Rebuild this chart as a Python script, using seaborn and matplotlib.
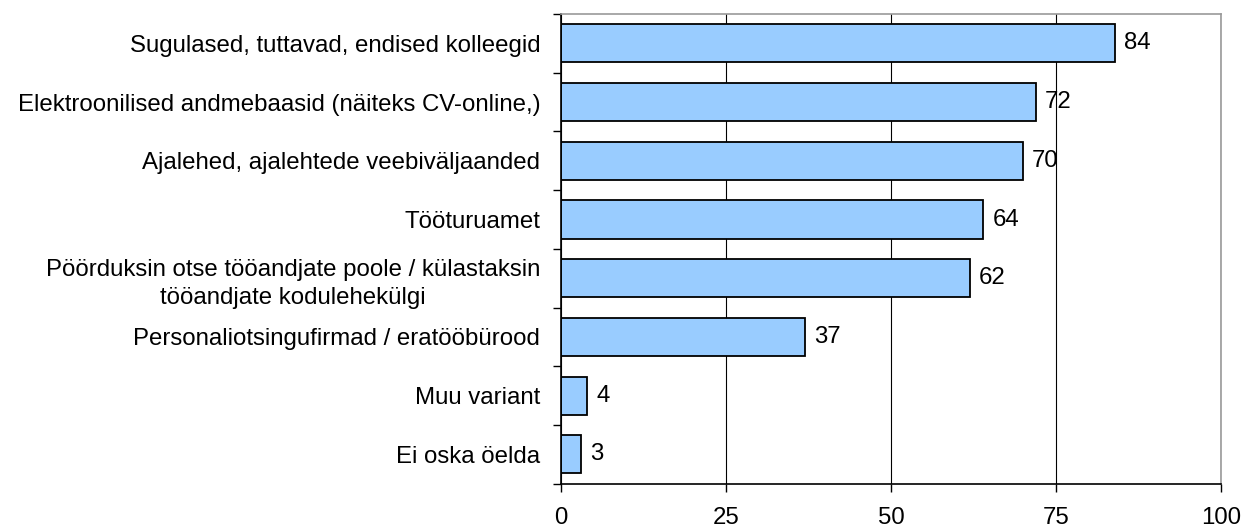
import numpy as np
import pandas as pd
import matplotlib
matplotlib.use("Agg")
import matplotlib.pyplot as plt
import seaborn as sns
from matplotlib.ticker import FixedLocator

categories = [
    "Sugulased, tuttavad, endised kolleegid",
    "Elektroonilised andmebaasid (näiteks CV-online,)",
    "Ajalehed, ajalehtede veebiväljaanded",
    "Tööturuamet",
    "Pöörduksin otse tööandjate poole / külastaksin\ntööandjate kodulehekülgi",
    "Personaliotsingufirmad / eratööbürood",
    "Muu variant",
    "Ei oska öelda",
]
values = [84, 72, 70, 64, 62, 37, 4, 3]
x_ticks = [0, 25, 50, 75, 100]

df = pd.DataFrame({"category": categories, "value": values})

sns.set_style("white")
plt.rcParams["font.family"] = ["Liberation Sans", "DejaVu Sans"]
plt.rcParams["text.color"] = "black"
plt.rcParams["xtick.color"] = "black"
plt.rcParams["ytick.color"] = "black"
fs = 17.3

fig = plt.figure(figsize=(12.55, 5.29), dpi=100)
ax = fig.add_axes([0.447, 0.0856, 0.5259, 0.8879])

sns.barplot(data=df, x="value", y="category", orient="h", color="#99CCFF",
            saturation=1, edgecolor="black", linewidth=1.3, width=0.65, ax=ax)

# value labels right of each bar
for i, v in enumerate(values):
    ax.annotate(str(v), xy=(v, i), xytext=(6.5, 0), textcoords="offset points",
                va="center", ha="left", fontsize=fs)

ax.set_xlim(0, 100)
ax.set_ylim(len(categories) - 0.5, -0.5)
ax.set_xticks(x_ticks)
ax.set_xticklabels([str(t) for t in x_ticks], fontsize=fs)
ax.xaxis.grid(True, color="black", linewidth=0.8)
ax.set_axisbelow(True)
ax.set_xlabel("")
ax.set_ylabel("")

ax.set_yticks(range(len(categories)))
ax.set_yticklabels(categories, fontsize=fs, multialignment="center", linespacing=1.35)
ax.tick_params(axis="y", which="major", length=0, pad=15)
ax.yaxis.set_minor_locator(FixedLocator(np.arange(-0.5, len(categories), 1.0)))
ax.tick_params(axis="y", which="minor", length=6, width=1, color="black", direction="out", left=True)
ax.tick_params(axis="x", which="major", length=6, width=1, color="black", direction="out", bottom=True, pad=11)

for side in ["left", "bottom"]:
    ax.spines[side].set_color("black")
    ax.spines[side].set_linewidth(1.2)
for side in ["top", "right"]:
    ax.spines[side].set_color("#999999")
    ax.spines[side].set_linewidth(1.2)

fig.savefig("out.png", dpi=100)
